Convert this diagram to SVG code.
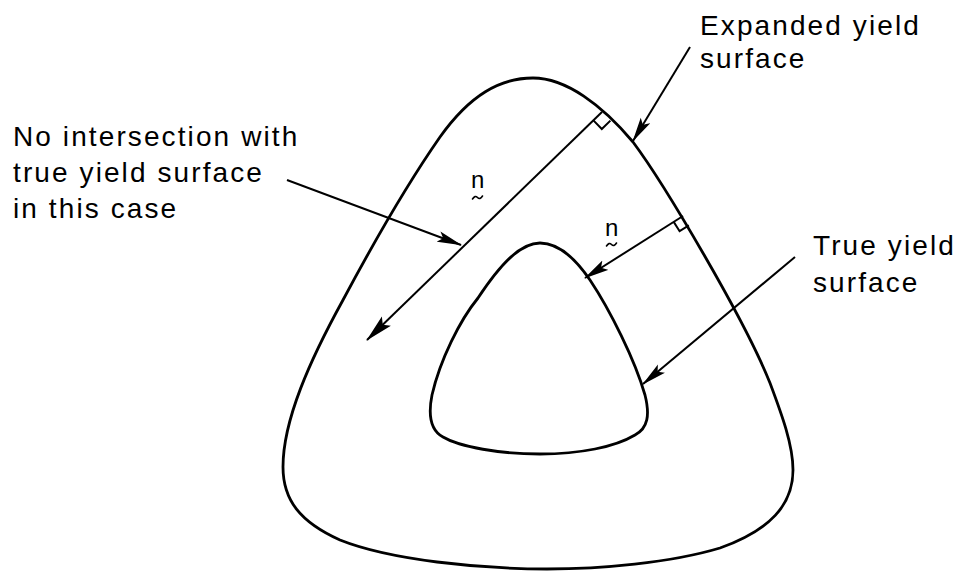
<svg xmlns="http://www.w3.org/2000/svg" width="961" height="571" viewBox="0 0 961 571">
<defs>
<marker id="ah" markerUnits="userSpaceOnUse" viewBox="0 0 25 12" refX="24" refY="6" markerWidth="25" markerHeight="12" orient="auto">
<path d="M0,0.5 L25,6 L0,11.5 L5,6 Z" fill="#000"/>
</marker>
<marker id="ahL" markerUnits="userSpaceOnUse" viewBox="0 0 28 14" refX="27" refY="7" markerWidth="28" markerHeight="14" orient="auto">
<path d="M0,0.5 L28,7 L0,13.5 L5,7 Z" fill="#000"/>
</marker>
<style>
.curve{fill:none;stroke:#000;stroke-width:2.8;stroke-linejoin:round}
.ln{fill:none;stroke:#000;stroke-width:2}
.lead{fill:none;stroke:#000;stroke-width:2;marker-end:url(#ah)}
.leadL{fill:none;stroke:#000;stroke-width:2;marker-end:url(#ahL)}
.lbl{font-family:"Liberation Sans",Arial,sans-serif;font-size:28px;letter-spacing:2.1px;fill:#000}
.sym{font-family:"Liberation Sans",Arial,sans-serif;font-size:24px;fill:#000}
.tilde{fill:none;stroke:#000;stroke-width:1.6;stroke-linecap:round}
</style>
</defs>
<rect width="961" height="571" fill="#fff"/>
<g id="expanded-surface">
<path class="curve" d="M533,78 C566,78 602,105 633,142 C665,185 745,320 770,383 C782,415 793,445 793,470 C793,505 770,530 720,548 C670,563 600,569 547,569 C480,569 390,560 340,540 C300,522 283,500 283,467 C283,420 310,360 343,300 C375,240 410,180 440,137 C470,95 500,78 533,78 Z"/>
</g>
<g id="true-surface">
<path class="curve" d="M540,243 C558,243 575,258 590,280 C610,310 635,360 645,395 C650,415 648,428 635,435 C615,447 580,454 540,454 C500,454 460,447 443,437 C430,430 428,415 432,395 C440,360 460,320 478,298 C500,265 520,243 540,243 Z"/>
</g>
<g id="connectors">
<line class="leadL" x1="602" y1="112" x2="367" y2="340"/>
<polyline class="ln" points="593.4,120.4 601.8,129 610.4,120.6"/>
<line class="lead" x1="683" y1="216" x2="585" y2="278"/>
<polyline class="ln" points="673.7,221.9 679.6,231.2 688.9,225.3"/>
<line class="lead" x1="690" y1="47" x2="633" y2="141"/>
<line class="lead" x1="795" y1="257" x2="643" y2="384"/>
<line class="lead" x1="287" y1="180" x2="461" y2="245"/>
</g>
<g id="label-no-intersection">
<text class="lbl" x="13" y="146">No intersection with</text>
<text class="lbl" x="13" y="182">true yield surface</text>
<text class="lbl" x="13" y="218">in this case</text>
</g>
<g id="label-expanded">
<text class="lbl" x="700" y="35">Expanded yield</text>
<text class="lbl" x="700" y="68">surface</text>
</g>
<g id="label-true">
<text class="lbl" x="813" y="255">True yield</text>
<text class="lbl" x="813" y="292">surface</text>
</g>
<g id="normal-label-1">
<text class="sym" x="471" y="188">n</text>
<path class="tilde" d="M472.5,199 q2.5,-4 5,-1.5 t5,-1.5"/>
</g>
<g id="normal-label-2">
<text class="sym" x="605" y="236">n</text>
<path class="tilde" d="M606.5,246 q2.5,-4 5,-1.5 t5,-1.5"/>
</g>
</svg>
